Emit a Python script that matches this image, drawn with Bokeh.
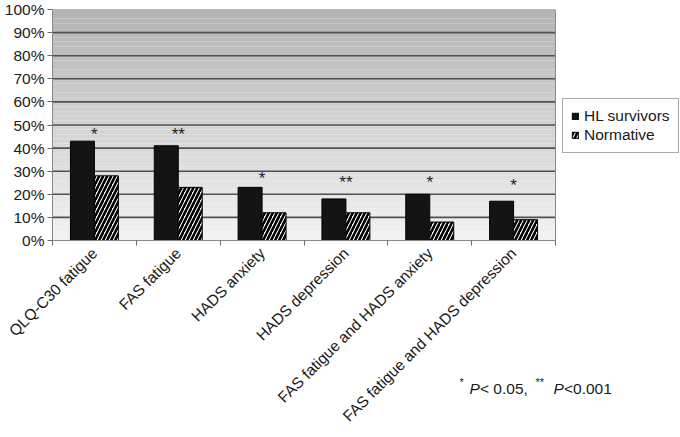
import numpy as np
from bokeh.plotting import figure
from bokeh.models import (FixedTicker, PrintfTickFormatter, Range1d, Legend, LegendItem)
from bokeh.embed import file_html
from bokeh.resources import INLINE
from bokeh.core.properties import value

categories = ["QLQ-C30 fatigue", "FAS fatigue", "HADS anxiety", "HADS depression",
              "FAS fatigue and HADS anxiety", "FAS fatigue and HADS depression"]
hl_survivors = [43, 41, 23, 18, 20, 17]
normative = [28, 23, 12, 12, 8, 9]
significance = ["*", "**", "*", "**", "*", "*"]
star_y = [46, 46, 27, 25, 25, 24]
y_ticks = [0, 10, 20, 30, 40, 50, 60, 70, 80, 90, 100]

FONT = "Liberation Sans"
n = len(categories)
centers = np.arange(n) + 0.5

W, H = 680, 437
FL, FR, FT, FB = 52, 555, 9, 240   # plot-area edges (canvas px)
px_per_x = (FR - FL) / n
px_per_y = (FB - FT) / 100.0
x_end = (W - FL) / px_per_x          # frame runs to the right edge so the legend is inside it

p = figure(width=W, height=H, output_backend="svg", toolbar_location=None,
           x_range=Range1d(0, x_end), y_range=Range1d(0, 100),
           min_border_left=FL, min_border_right=0, min_border_top=FT,
           min_border_bottom=H - FB)
p.background_fill_color = "white"
p.border_fill_color = "white"
p.outline_line_color = None

# gradient plot area (decoration)
edges = np.linspace(0, 100, 51)
t = (edges[:-1] + edges[1:]) / 2 / 100.0
g = (243 - t * (243 - 180)).astype(int)
cols = ["#%02x%02x%02x" % (v, v, v) for v in g]
p.quad(left=0, right=n, bottom=edges[:-1], top=edges[1:], fill_color=cols,
       line_color=None, level="image")

# horizontal grid lines limited to the plot area
p.xgrid.visible = False
p.ygrid.visible = False
p.segment(x0=0, x1=n, y0=y_ticks[1:-1], y1=y_ticks[1:-1], line_color="#505050",
          line_width=1.6, level="underlay")
# plot-area border
p.quad(left=0, right=n, bottom=0, top=100, fill_color=None, line_color="#8a8a8a",
       line_width=1, level="underlay")

# bars
bw = 0.286
r1 = p.vbar(x=centers - bw / 2, top=hl_survivors, width=bw, fill_color="#141414",
            line_color="#000000", line_width=1)
r2 = p.vbar(x=centers + bw / 2, top=normative, width=bw, fill_color="white",
            line_color="#000000", line_width=1, hatch_pattern="/", hatch_color="#000000",
            hatch_scale=8, hatch_weight=2.6)

# significance stars
p.text(x=centers, y=star_y, text=significance, text_align="center", text_baseline="middle",
       text_font=value(FONT), text_font_size="17px", text_color="#222222")

# axes
p.yaxis.ticker = FixedTicker(ticks=y_ticks)
p.yaxis.formatter = PrintfTickFormatter(format="%d%%")
p.yaxis.major_label_text_font = FONT
p.yaxis.major_label_text_font_size = "15.5px"
p.yaxis.major_label_text_color = "#1a1a1a"
p.yaxis.major_label_standoff = 3
p.yaxis.major_tick_out = 5
p.yaxis.major_tick_in = 0
p.yaxis.minor_tick_line_color = None
p.yaxis.axis_line_color = "#8a8a8a"
p.yaxis.major_tick_line_color = "#6a6a6a"

p.xaxis.bounds = (0, n)
p.xaxis.ticker = FixedTicker(ticks=list(centers), minor_ticks=list(range(n + 1)))
p.xaxis.major_label_overrides = {float(c): lab for c, lab in zip(centers, categories)}
p.xaxis.major_tick_line_color = None
p.xaxis.minor_tick_out = 5
p.xaxis.minor_tick_in = 0
p.xaxis.minor_tick_line_color = "#6a6a6a"
p.xaxis.axis_line_color = "#8a8a8a"
p.xaxis.major_label_orientation = np.pi / 4
p.xaxis.major_label_text_font = FONT
p.xaxis.major_label_text_font_size = "15.5px"
p.xaxis.major_label_text_color = "#1a1a1a"
p.xaxis.major_label_standoff = 4

# legend (inside the widened frame, right of the plot area)
legend = Legend(items=[LegendItem(label="HL survivors", renderers=[r1]),
                       LegendItem(label="Normative", renderers=[r2])],
                location=(562 - FL, FB - 153))
legend.margin = 0
legend.label_text_font = FONT
legend.label_text_font_size = "15.5px"
legend.label_text_color = "#1a1a1a"
legend.glyph_width = 8
legend.glyph_height = 8
legend.label_height = 18
legend.spacing = 1
legend.padding = 8
legend.label_standoff = 5
legend.border_line_color = "#555555"
legend.border_line_width = 1.5
legend.background_fill_color = "white"
legend.background_fill_alpha = 1
p.add_layout(legend, "center")

# footnote below the plot area
def dx(px):
    return (px - FL) / px_per_x

def dy(py):
    return (FB - py) / px_per_y

note_text = ["*", "P", "< 0.05,", "**", "P", "<0.001"]
note_px = [459, 469, 479.5, 535, 553, 563.5]
note_py = [381, 388, 388, 381, 388, 388]
note_style = ["normal", "italic", "normal", "normal", "italic", "normal"]
note_size = ["11px", "15.5px", "15.5px", "11px", "15.5px", "15.5px"]
p.text(x=[dx(v) for v in note_px], y=[dy(v) for v in note_py], text=note_text,
       text_font=value(FONT), text_font_style=note_style, text_font_size=note_size,
       text_color="#1a1a1a", text_align="left", text_baseline="alphabetic",
       level="overlay")

open("out.html", "w").write(file_html(p, INLINE))
